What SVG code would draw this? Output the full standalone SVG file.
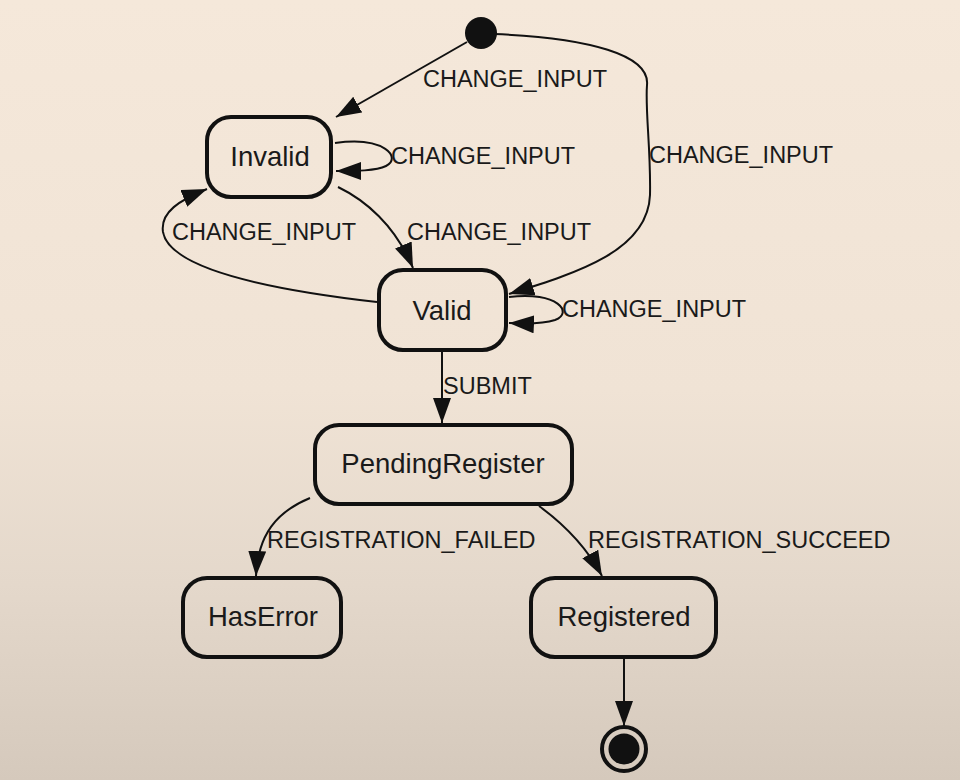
<svg xmlns="http://www.w3.org/2000/svg" width="960" height="780" viewBox="0 0 960 780">
  <defs>
    <linearGradient id="bg" x1="0" y1="0" x2="0" y2="1">
      <stop offset="0" stop-color="#f5e8da"/>
      <stop offset="0.5" stop-color="#f0e3d5"/>
      <stop offset="0.75" stop-color="#e4d8cb"/>
      <stop offset="1" stop-color="#d5c9bc"/>
    </linearGradient>
    <marker id="arrow" markerUnits="userSpaceOnUse" markerWidth="26" markerHeight="18" refX="25" refY="9" orient="auto" viewBox="0 0 26 18">
      <path d="M0,0 L25,9 L0,18 Z" fill="#111"/>
    </marker>
    <style>
      .state { fill: none; stroke: #111; stroke-width: 4; }
      .name { font-family: "Liberation Sans", Arial, sans-serif; font-size: 27.5px; fill: #1a1a1a; text-anchor: middle; }
      .edge { fill: none; stroke: #111; stroke-width: 2; marker-end: url(#arrow); }
      .label { font-family: "Liberation Sans", Arial, sans-serif; font-size: 23.5px; fill: #1a1a1a; }
    </style>
  </defs>
  <rect x="0" y="0" width="960" height="780" fill="url(#bg)"/>

  <g id="connectors">
    <path class="edge" d="M 467 42 L 336 117"/>
    <text class="label" x="423" y="87">CHANGE_INPUT</text>

    <path class="edge" d="M 335 143 C 385 136, 402 158, 386 166 C 376 171, 356 171, 336 171"/>
    <text class="label" x="391" y="164">CHANGE_INPUT</text>

    <path class="edge" d="M 338 187 C 365 200, 395 225, 413 268"/>
    <text class="label" x="407" y="240">CHANGE_INPUT</text>

    <path class="edge" d="M 377 302 C 290 292, 170 272, 163 232 C 160 212, 180 200, 207 189"/>
    <text class="label" x="172" y="240">CHANGE_INPUT</text>

    <path class="edge" d="M 494 34 C 590 38, 650 55, 647 85 C 645 110, 651 150, 650 195 C 648 250, 580 272, 509 294"/>
    <text class="label" x="649" y="163">CHANGE_INPUT</text>

    <path class="edge" d="M 509 297 C 558 291, 574 313, 555 320 C 543 324, 528 324, 509 323"/>
    <text class="label" x="562" y="317">CHANGE_INPUT</text>

    <path class="edge" d="M 442 352 L 442 423"/>
    <text class="label" x="443" y="394">SUBMIT</text>

    <path class="edge" d="M 310 498 C 276 512, 258 535, 256 576"/>
    <text class="label" x="267" y="548">REGISTRATION_FAILED</text>

    <path class="edge" d="M 539 506 C 565 525, 586 546, 602 576"/>
    <text class="label" x="588" y="548">REGISTRATION_SUCCEED</text>

    <path class="edge" d="M 624 659 L 624 726"/>
  </g>

  <g id="initial">
    <circle cx="481" cy="33" r="16" fill="#111"/>
  </g>

  <g id="invalid">
    <rect class="state" x="207" y="117" width="124" height="80" rx="24"/>
    <text class="name" x="270" y="165.5">Invalid</text>
  </g>

  <g id="valid">
    <rect class="state" x="379" y="270" width="127" height="80" rx="24"/>
    <text class="name" x="442" y="319.5">Valid</text>
  </g>

  <g id="pendingRegister">
    <rect class="state" x="315" y="425" width="257" height="79" rx="24"/>
    <text class="name" x="443" y="473">PendingRegister</text>
  </g>

  <g id="hasError">
    <rect class="state" x="183" y="578" width="158" height="79" rx="24"/>
    <text class="name" x="263" y="626">HasError</text>
  </g>

  <g id="registered">
    <rect class="state" x="531" y="578" width="185" height="79" rx="24"/>
    <text class="name" x="624" y="626">Registered</text>
  </g>

  <g id="final">
    <circle cx="624" cy="749" r="22" fill="none" stroke="#111" stroke-width="4"/>
    <circle cx="624" cy="749" r="15.5" fill="#111"/>
  </g>
</svg>
